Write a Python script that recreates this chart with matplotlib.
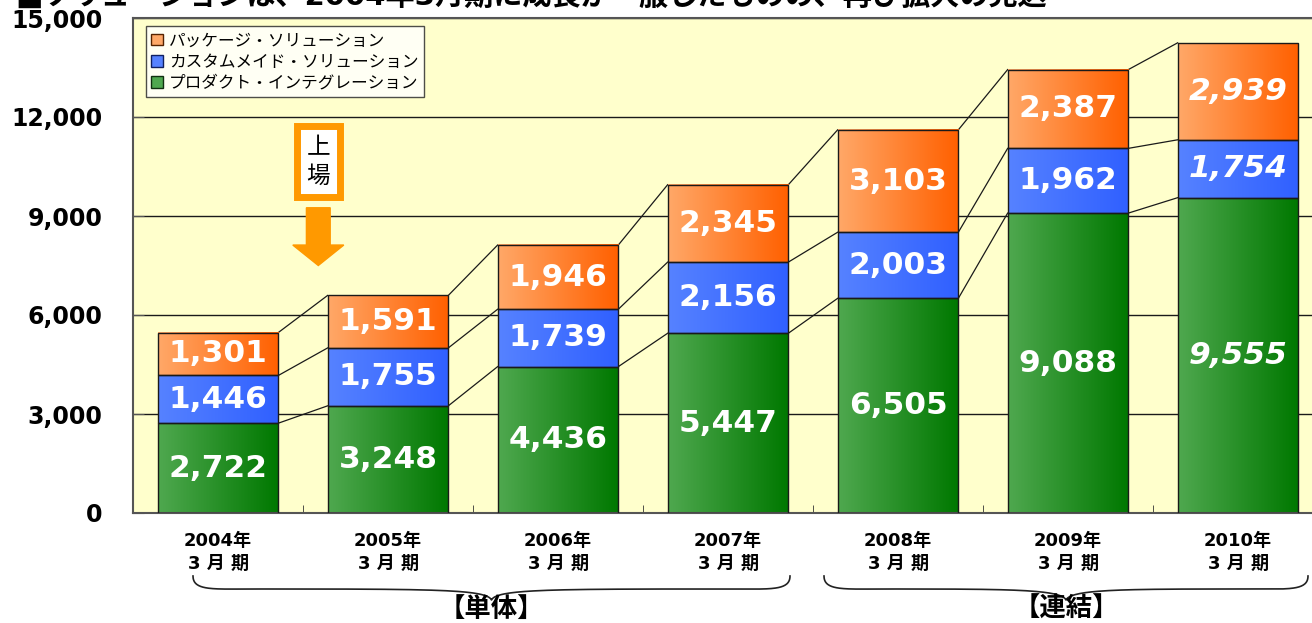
import numpy as np
import matplotlib
matplotlib.use("Agg")
import matplotlib.pyplot as plt
from matplotlib.patches import Patch, FancyArrow
from matplotlib.colors import to_rgb

# data
years = ["2004年\n3 月 期", "2005年\n3 月 期", "2006年\n3 月 期", "2007年\n3 月 期",
         "2008年\n3 月 期", "2009年\n3 月 期", "2010年\n3 月 期"]
product = [2722, 3248, 4436, 5447, 6505, 9088, 9555]
custom = [1446, 1755, 1739, 2156, 2003, 1962, 1754]
package = [1301, 1591, 1946, 2345, 3103, 2387, 2939]
series_names = ["パッケージ・ソリューション", "カスタムメイド・ソリューション", "プロダクト・インテグレーション"]
yticks = [0, 3000, 6000, 9000, 12000, 15000]

JP = ["DejaVu Sans", "Noto Sans CJK JP"]

# gradient colours (light left -> dark right)
grad = {
    "product": ("#4fa84f", "#007800"),
    "custom": ("#5682ff", "#3060ff"),
    "package": ("#ffa868", "#ff6000"),
}

fig = plt.figure(figsize=(13.12, 6.23), dpi=100)
ax = fig.add_axes([133 / 1312, 110 / 623, 1190 / 1312, 495 / 623])
ax.set_facecolor("#ffffcc")

x = np.arange(len(years))
w = 0.71
bottoms = np.zeros(len(x))
levels = []


def gradient_fill(patch, c1, c2):
    # paint a left-to-right gradient inside a bar
    x0, y0 = patch.get_x(), patch.get_y()
    bw, bh = patch.get_width(), patch.get_height()
    a, b = np.array(to_rgb(c1)), np.array(to_rgb(c2))
    t = np.linspace(0, 1, 128)[None, :, None]
    img = a + (b - a) * t
    ax.imshow(img, extent=(x0, x0 + bw, y0, y0 + bh), aspect="auto",
              interpolation="bilinear", zorder=2)


for key, vals in [("product", product), ("custom", custom), ("package", package)]:
    bars = ax.bar(x, vals, w, bottom=bottoms, facecolor="none",
                  edgecolor="#1a1a1a", linewidth=1.0, zorder=3)
    for i, p in enumerate(bars):
        gradient_fill(p, *grad[key])
        ax.text(p.get_x() + p.get_width() / 2, p.get_y() + p.get_height() / 2,
                f"{vals[i]:,}", ha="center", va="center", color="white",
                fontsize=22.5, fontweight="bold", family="DejaVu Sans",
                style="italic" if i == len(vals) - 1 else "normal", zorder=4)
    bottoms = bottoms + np.array(vals)
    levels.append(bottoms.copy())

# connector lines between bars
for lv in levels:
    for i in range(len(x) - 1):
        ax.plot([x[i] + w / 2, x[i + 1] - w / 2], [lv[i], lv[i + 1]],
                color="#1a1a1a", linewidth=0.9, zorder=1.5)

ax.set_xlim(-0.5, len(x) - 0.5)
ax.set_ylim(0, 15000)
ax.set_yticks(yticks)
ax.set_yticklabels([f"{v:,}" for v in yticks], fontsize=17, fontweight="bold",
                   family="DejaVu Sans")
ax.yaxis.grid(True, color="#1a1a1a", linewidth=1.0)
ax.set_axisbelow(True)
ax.tick_params(axis="y", direction="in", length=8, pad=22, color="#555555")

ax.set_xticks(x)
ax.set_xticklabels(years, fontsize=13, fontweight="bold", family=JP, linespacing=1.3)
ax.set_xticks(x[:-1] + 0.5, minor=True)
ax.tick_params(axis="x", which="major", length=0, pad=14)
ax.tick_params(axis="x", which="minor", direction="in", length=6, color="#333333")
for s in ["left", "bottom", "top"]:
    ax.spines[s].set_color("#555555")
    ax.spines[s].set_linewidth(1.5)

# legend
handles = [Patch(facecolor=grad["package"][0], edgecolor="#552200"),
           Patch(facecolor=grad["custom"][0], edgecolor="#102060"),
           Patch(facecolor=grad["product"][0], edgecolor="#103010")]
leg = ax.legend(handles, series_names, loc="upper left", bbox_to_anchor=(0.008, 0.99),
                prop={"family": JP, "size": 12}, frameon=True, fancybox=False,
                edgecolor="#222222", handlelength=0.7, handleheight=0.7,
                handletextpad=0.4, labelspacing=0.2, borderpad=0.3,
                borderaxespad=0.2)
leg.get_frame().set_linewidth(1.0)
leg.set_zorder(6)

# listing marker
ax.text(0.59, 10650, "上\n場", ha="center", va="center", fontsize=17, family=JP,
        linespacing=1.2, zorder=6,
        bbox=dict(boxstyle="square,pad=0.42", facecolor="white",
                  edgecolor="#ff9900", linewidth=5))
ax.add_patch(FancyArrow(0.59, 9250, 0, -1750, width=0.14, head_width=0.30,
                        head_length=620, length_includes_head=True,
                        facecolor="#ff9900", edgecolor="#ff9900", zorder=6))


# braces below the axis
def brace(x0, x1, y_top, y_mid, y_tip):
    # curly brace made of cubic curves in figure pixels
    xm = (x0 + x1) / 2
    t = np.linspace(0, 1, 60)

    def bez(p0, p1, p2, p3):
        return ((1 - t) ** 3)[:, None] * p0 + (3 * (1 - t) ** 2 * t)[:, None] * p1 \
            + (3 * (1 - t) * t ** 2)[:, None] * p2 + (t ** 3)[:, None] * p3

    segs = [
        bez(np.array([x0, y_top]), np.array([x0, y_mid + 2]), np.array([x0 + 20, y_mid]), np.array([x0 + 60, y_mid])),
        bez(np.array([x0 + 60, y_mid]), np.array([xm - 60, y_mid]), np.array([xm - 5, y_mid]), np.array([xm, y_tip])),
        bez(np.array([xm, y_tip]), np.array([xm + 5, y_mid]), np.array([xm + 60, y_mid]), np.array([x1 - 60, y_mid])),
        bez(np.array([x1 - 60, y_mid]), np.array([x1 - 20, y_mid]), np.array([x1, y_mid + 2]), np.array([x1, y_top])),
    ]
    pts = np.vstack(segs)
    fig.add_artist(plt.Line2D(pts[:, 0] / 1312, 1 - pts[:, 1] / 623,
                              color="#222222", linewidth=1.2))
    return xm


m1 = brace(193, 790, 576, 589, 600)
m2 = brace(824, 1308, 576, 589, 600)
fig.text(m1 / 1312, 1 - 610 / 623, "【単体】", ha="center", va="center",
         fontsize=19, fontweight="bold", family=JP)
fig.text(m2 / 1312, 1 - 610 / 623, "【連結】", ha="center", va="center",
         fontsize=19, fontweight="bold", family=JP)

# title, cut off at the top edge
fig.text(0.012, 1 - 5 / 623, "■ソリューションは、2004年3月期に成長が一服したものの、再び拡大の見込",
         ha="left", va="baseline", fontsize=21, fontweight="bold", family=JP)

fig.savefig("out.png", dpi=100)
